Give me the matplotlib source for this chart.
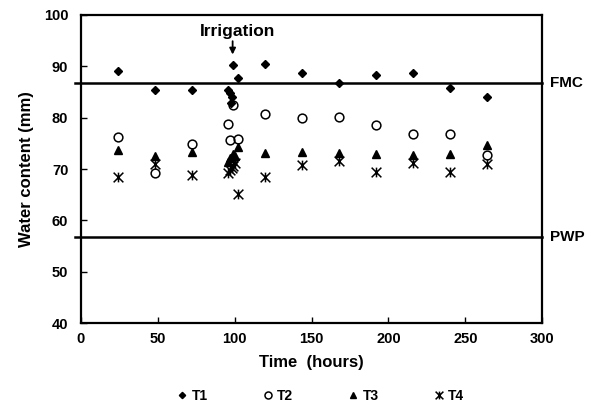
import matplotlib
matplotlib.use("Agg")
import matplotlib.pyplot as plt
from matplotlib.path import Path

plt.rcParams['font.family'] = ['Liberation Sans', 'DejaVu Sans']
plt.rcParams['font.weight'] = 'bold'

# time (hours) and water content (mm)
t1_time = [24, 48, 72, 96, 97, 97.5, 98, 99, 102, 120, 144, 168, 192, 216, 240, 264]
t1_water = [89.1, 85.3, 85.3, 85.4, 84.8, 82.8, 84.1, 90.3, 87.7, 90.5, 88.7, 86.7, 88.3, 88.8, 85.7, 84.0]

t2_time = [24, 48, 72, 96, 97, 99, 102, 120, 144, 168, 192, 216, 240, 264]
t2_water = [76.2, 69.3, 74.9, 78.7, 75.6, 82.4, 75.8, 80.8, 79.9, 80.1, 78.5, 76.8, 76.9, 72.8]

t3_time = [24, 48, 72, 96, 97, 99, 100, 102, 120, 144, 168, 192, 216, 240, 264]
t3_water = [73.7, 72.6, 73.3, 71.3, 72.2, 73.0, 72.6, 74.3, 73.2, 73.3, 73.1, 73.0, 72.8, 73.0, 74.7]

t4_time = [24, 48, 72, 96, 97, 98, 99, 100, 102, 120, 144, 168, 192, 216, 240, 264]
t4_water = [68.5, 71.0, 68.9, 69.3, 69.8, 70.2, 70.6, 71.2, 65.2, 68.4, 70.8, 71.6, 69.4, 71.1, 69.5, 71.0]

fmc = 86.8
pwp = 56.7
irrigation_time = 98.7

# Excel style star: X with a vertical stroke
star = Path([(-1, -1), (1, 1), (-1, 1), (1, -1), (0, -1), (0, 1)],
            [Path.MOVETO, Path.LINETO, Path.MOVETO, Path.LINETO, Path.MOVETO, Path.LINETO])

fig = plt.figure(figsize=(5.9, 4.05), dpi=100)
ax = fig.add_axes([0.137, 0.202, 0.782, 0.761])

ax.plot(t1_time, t1_water, 'D', ms=4, color='black', ls='none', label='T1')
ax.plot(t2_time, t2_water, 'o', ms=6.3, mfc='none', mec='black', mew=1.1, ls='none', label='T2')
ax.plot(t3_time, t3_water, '^', ms=5.5, color='black', ls='none', label='T3')
ax.plot(t4_time, t4_water, marker=star, ms=7, mfc='none', mec='black', mew=1.1, ls='none', label='T4')

ax.plot([-3.5, 300], [fmc, fmc], color='black', lw=1.8, clip_on=False)
ax.plot([-3.5, 300], [pwp, pwp], color='black', lw=1.8, clip_on=False)
ax.text(305, fmc, 'FMC', fontsize=11, fontweight='bold', va='center', ha='left')
ax.text(305, pwp, 'PWP', fontsize=11, fontweight='bold', va='center', ha='left')

ax.text(102, 96.7, 'Irrigation', ha='center', va='center', fontsize=12.5, fontweight='bold')
ax.annotate('', xy=(irrigation_time, 92.3), xytext=(irrigation_time, 94.9),
            arrowprops=dict(arrowstyle='-|>', color='black', lw=1.3,
                            mutation_scale=9, shrinkA=0, shrinkB=0))

ax.set_xlim(0, 300)
ax.set_ylim(40, 100)
ax.set_xticks(range(0, 301, 50))
ax.set_yticks(range(40, 101, 10))
ax.tick_params(direction='in', length=4, width=1, labelsize=10.5)
ax.tick_params(axis='x', pad=6)
ax.tick_params(axis='y', pad=9)
for lab in ax.get_xticklabels() + ax.get_yticklabels():
    lab.set_fontweight('bold')
for sp in ax.spines.values():
    sp.set_linewidth(1.6)

ax.set_xlabel('Time  (hours)', fontsize=12, fontweight='bold', labelpad=7)
ax.set_ylabel('Water content (mm)', fontsize=12, fontweight='bold', labelpad=7)

fig.legend(loc='center', bbox_to_anchor=(0.542, 9 / 405), ncol=4, frameon=False,
           handlelength=1, handletextpad=0.2, columnspacing=3.8, markerscale=0.8,
           prop={'weight': 'bold', 'size': 10})

fig.savefig('out.png', dpi=100)
